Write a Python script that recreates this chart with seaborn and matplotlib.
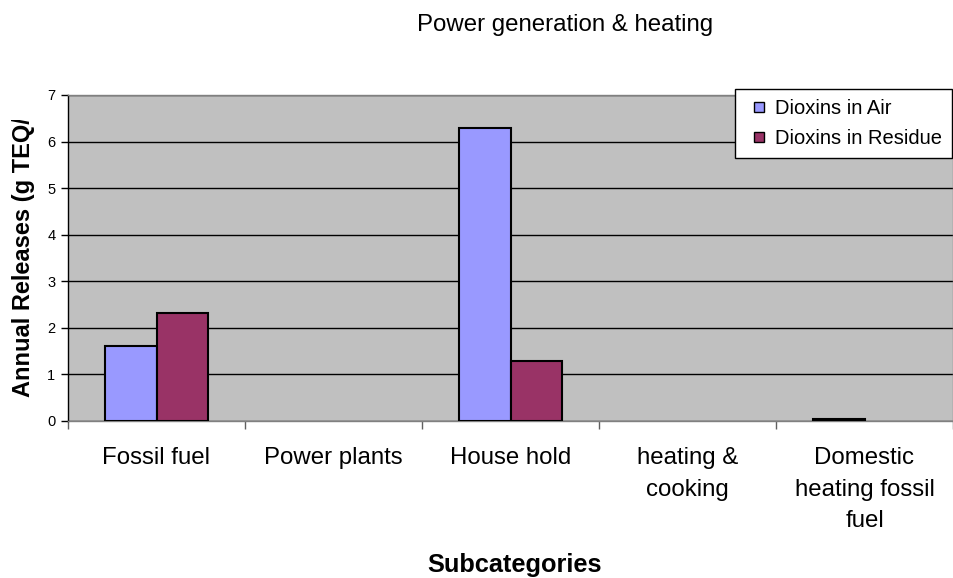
import matplotlib
matplotlib.use("Agg")
import matplotlib.pyplot as plt
import seaborn as sns
import pandas as pd
from matplotlib.lines import Line2D
from matplotlib.transforms import Bbox

# Annual dioxin releases by subcategory (g TEQ/a)
categories = ["Fossil fuel", "Power plants", "House hold", "heating &\ncooking",
              "Domestic\nheating fossil\nfuel"]
series_names = ["Dioxins in Air", "Dioxins in Residue"]
series_colors = ["#9999FF", "#993366"]
air_values = [1.62, 0.0, 6.29, 0.0, 0.05]
residue_values = [2.31, 0.0, 1.29, 0.0, 0.0]
y_ticks = [0, 1, 2, 3, 4, 5, 6, 7]

df = pd.DataFrame({
    "Subcategory": categories * 2,
    "Series": [series_names[0]] * len(categories) + [series_names[1]] * len(categories),
    "Release": air_values + residue_values,
})

sns.set_theme(style="white")
plt.rcParams["font.family"] = ["Liberation Sans", "DejaVu Sans"]
plt.rcParams["text.color"] = "black"
plt.rcParams["xtick.labelcolor"] = "black"
plt.rcParams["ytick.labelcolor"] = "black"

W, H = 954, 578
fig = plt.figure(figsize=(W / 100, H / 100), dpi=100)
ax = fig.add_axes([68 / W, 1 - 421 / H, (953 - 68) / W, (421 - 95) / H])
ax.set_facecolor("#C0C0C0")

sns.barplot(data=df, x="Subcategory", y="Release", hue="Series",
            palette=series_colors, width=0.58, saturation=1,
            edgecolor="black", linewidth=1.5, ax=ax, legend=False, zorder=3)

# hide zero-height bars, as a spreadsheet chart would
for patch in ax.patches:
    if patch.get_height() == 0:
        patch.set_linewidth(0)

ax.set_ylim(0, 7)
ax.set_xlim(-0.5, len(categories) - 0.5)
ax.set_yticks(y_ticks)
ax.set_yticklabels([str(t) for t in y_ticks], fontsize=10.5)
ax.yaxis.grid(True, color="black", linewidth=1.0, zorder=0)
ax.set_axisbelow(True)

ax.set_xticks(range(len(categories)))
ax.set_xticklabels(categories, fontsize=17.3, linespacing=1.55)
ax.tick_params(axis="x", length=0, pad=19)
ax.set_xticks([i - 0.5 for i in range(len(categories) + 1)], minor=True)
ax.tick_params(axis="x", which="minor", length=6, width=1, color="#606060",
               direction="out", bottom=True)
ax.tick_params(axis="y", length=5, width=1, color="black", direction="out",
               left=True, pad=4)

for side in ["top", "right", "bottom"]:
    ax.spines[side].set_color("#808080")
    ax.spines[side].set_linewidth(1)
ax.spines["left"].set_color("black")
ax.spines["left"].set_linewidth(1)

ax.set_xlabel("")
ax.set_ylabel("")

fig.text(565 / W, 1 - 25 / H, "Power generation & heating", fontsize=17.3,
         ha="center", va="center")
fig.text(515 / W, 1 - 565 / H, "Subcategories", fontsize=18.3, fontweight="bold",
         ha="center", va="center")

ylab = fig.text(24 / W, 1 - 397 / H, "Annual Releases (g TEQ/a)", fontsize=17,
                fontweight="bold", rotation=90, ha="center", va="bottom")
ylab.set_clip_box(Bbox.from_extents(0, 0, 60, H - 120))
ylab.set_clip_on(True)

handles = [Line2D([], [], linestyle="none", marker="s", markersize=7.2,
                  markerfacecolor=c, markeredgecolor="black", markeredgewidth=1)
           for c in series_colors]
leg = ax.legend(handles, series_names, loc="upper left",
                bbox_to_anchor=(735 / W, 1 - 89 / H),
                bbox_transform=fig.transFigure, borderaxespad=0, frameon=True,
                fancybox=False, edgecolor="black", facecolor="white", framealpha=1,
                fontsize=14.5, handlelength=1.4, handletextpad=0.1,
                labelspacing=0.55, borderpad=0.5)
leg.get_frame().set_linewidth(1)

fig.savefig("out.png", dpi=100)
